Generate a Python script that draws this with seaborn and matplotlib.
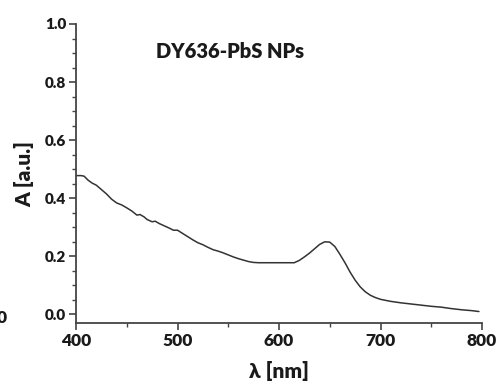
import matplotlib
matplotlib.use("Agg")
import matplotlib.pyplot as plt
import seaborn as sns
import pandas as pd
from matplotlib.ticker import MultipleLocator

wavelength = [400, 405, 408, 412, 416, 420, 425, 430, 435, 440, 445, 450, 455, 460, 463,
              467, 470, 475, 478, 482, 487, 492, 496, 500, 505, 510, 515, 520, 525, 530,
              535, 540, 545, 550, 555, 560, 565, 570, 575, 580, 590, 600, 610, 615, 620,
              625, 630, 635, 640, 645, 650, 655, 660, 665, 670, 675, 680, 685, 690, 695,
              700, 710, 720, 730, 740, 750, 760, 770, 780, 790, 797]
absorbance = [0.478, 0.478, 0.476, 0.462, 0.452, 0.445, 0.430, 0.415, 0.397, 0.384, 0.377,
              0.367, 0.356, 0.342, 0.344, 0.336, 0.327, 0.319, 0.321, 0.313, 0.305, 0.297,
              0.290, 0.290, 0.279, 0.268, 0.257, 0.247, 0.240, 0.231, 0.223, 0.218, 0.212,
              0.205, 0.198, 0.192, 0.187, 0.182, 0.179, 0.178, 0.178, 0.178, 0.178, 0.178,
              0.186, 0.198, 0.211, 0.226, 0.241, 0.250, 0.249, 0.234, 0.207, 0.178, 0.146,
              0.118, 0.095, 0.078, 0.066, 0.058, 0.052, 0.045, 0.040, 0.036, 0.032, 0.028,
              0.025, 0.020, 0.016, 0.013, 0.010]
x_ticks = [400, 500, 600, 700, 800]
y_ticks = [0.0, 0.2, 0.4, 0.6, 0.8, 1.0]

df = pd.DataFrame({"wl": wavelength, "A": absorbance})

sns.set_style("ticks")
plt.rcParams['font.family'] = ['Lato', 'DejaVu Sans']

fig = plt.figure(figsize=(5.0, 3.87), dpi=100)
ax = fig.add_axes([0.152, 0.165, 0.812, 0.773])
sns.lineplot(data=df, x="wl", y="A", ax=ax, color="#333333", linewidth=1.1)

ax.set_xlim(400, 800)
ax.set_ylim(-0.03, 1.0)
ax.set_xticks(x_ticks)
ax.set_xticklabels([str(v) for v in x_ticks], fontsize=12.5, fontweight="heavy", color="#1a1a1a")
ax.set_yticks(y_ticks)
ax.set_yticklabels([f"{v:.1f}" for v in y_ticks], fontsize=11, fontweight="heavy", color="#1a1a1a")
ax.xaxis.set_minor_locator(MultipleLocator(50))
ax.yaxis.set_minor_locator(MultipleLocator(0.05))
ax.tick_params(axis="both", which="major", direction="out", length=5, width=1.2, color="#444444", pad=2)
ax.tick_params(axis="both", which="minor", direction="out", length=3, width=1.0, color="#444444")
for s in ["top", "right"]:
    ax.spines[s].set_visible(False)
for s in ["left", "bottom"]:
    ax.spines[s].set_color("#444444")
    ax.spines[s].set_linewidth(1.3)

ax.set_xlabel("λ [nm]", fontsize=15, fontweight="heavy", labelpad=9, color="#1a1a1a")
ax.set_ylabel("A [a.u.]", fontsize=15, fontweight="heavy", labelpad=8, color="#1a1a1a")
ax.text(552, 0.905, "DY636-PbS NPs", fontsize=14.5, fontweight="heavy", ha="center", va="center",
        color="#1a1a1a")
fig.text(0.004, 1 - 318 / 387, "0", fontsize=12.5, fontweight="heavy", ha="center", va="center",
         color="#1a1a1a")

fig.savefig("out.png", dpi=100)
